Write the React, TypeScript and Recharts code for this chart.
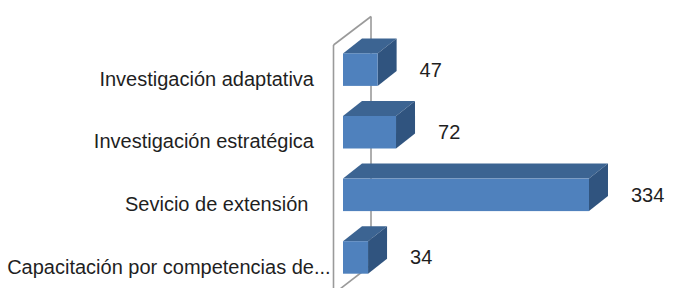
import React from 'react';
import { BarChart, Bar, XAxis, YAxis, LabelList, Customized } from 'recharts';

const categories = [
  'Investigación adaptativa',
  'Investigación estratégica',
  'Sevicio de extensión ',
  'Capacitación por competencias de...',
];
const values = [47, 72, 334, 34];

const data = categories.map((name, i) => ({ name, value: values[i] }));

const W = 697;
const H = 300;
const LEFT = 343;
const TOP = 38.4;
const BOTTOM = 11.2;
const RIGHT = 59.4;
const DX = 19;
const DY = 15;
const FONT = '"Liberation Sans", Arial, sans-serif';
const TEXT = '#1f1f1f';

const FRONT = '#4f81bd';
const TOPC = '#3c6492';
const SIDE = '#30547f';

const Box3D = (props: any) => {
  const { x, y, width, height } = props;
  if (width == null || height == null) return null;
  const w = width, h = height;
  return (
    <g>
      <polygon
        points={`${x},${y} ${x + DX},${y - DY} ${x + w + DX},${y - DY} ${x + w},${y}`}
        fill={TOPC}
      />
      <polygon
        points={`${x + w},${y} ${x + w + DX},${y - DY} ${x + w + DX},${y + h - DY} ${x + w},${y + h}`}
        fill={SIDE}
      />
      <rect x={x} y={y} width={w} height={h} fill={FRONT} />
    </g>
  );
};

const ValueLabel = (props: any) => {
  const { x, y, width, height, value } = props;
  return (
    <text
      x={x + width + DX + 23}
      y={y + height / 2 + 7}
      fontFamily={FONT}
      fontSize={20}
      fill={TEXT}
    >
      {value}
    </text>
  );
};

const CategoryTick = (props: any) => {
  const { y, payload } = props;
  const label: string = payload.value;
  const tx = LEFT - 29;
  const ty = y + 16;
  if (label.endsWith('...')) {
    const body = label.slice(0, -3);
    return (
      <g>
        <text x={tx} y={ty} textAnchor="end" fontFamily={FONT} fontSize={20} fill={TEXT}>
          {body}
        </text>
        <text x={tx} y={ty} textAnchor="start" fontFamily={FONT} fontSize={20} fill={TEXT}>
          ...
        </text>
      </g>
    );
  }
  return (
    <text
      x={tx}
      y={ty}
      textAnchor="end"
      fontFamily={FONT}
      fontSize={20}
      fill={TEXT}
      style={{ whiteSpace: 'pre' }}
    >
      {label}
    </text>
  );
};

const Walls = () => {
  const fx = LEFT - 9.5;
  const bx = LEFT + 28;
  const topFront = TOP + 6.6;
  const topBack = TOP - 21.9;
  const floorFront = H - 6;
  const floorBack = floorFront - 29;
  const stroke = '#9a9a9a';
  return (
    <g>
      <line x1={fx} y1={topFront} x2={fx} y2={H} stroke={stroke} strokeWidth={1.6} />
      <line x1={fx} y1={topFront} x2={bx} y2={topBack} stroke={stroke} strokeWidth={1.6} />
      <line x1={bx} y1={topBack} x2={bx} y2={floorBack} stroke={stroke} strokeWidth={1.6} />
      <line x1={fx} y1={floorFront} x2={bx} y2={floorBack} stroke={stroke} strokeWidth={1.6} />
    </g>
  );
};

export default function App() {
  return (
    <div style={{ position: 'absolute', left: 0, top: 0, width: W, height: 288, overflow: 'hidden', background: '#fff' }}>
      <BarChart
        width={W}
        height={H}
        data={data}
        layout="vertical"
        margin={{ top: TOP, right: RIGHT, bottom: BOTTOM, left: 0 }}
      >
        <XAxis type="number" domain={[0, 400]} hide />
        <YAxis
          type="category"
          dataKey="name"
          width={LEFT}
          axisLine={false}
          tickLine={false}
          tick={(p: any) => <CategoryTick {...p} />}
          interval={0}
        />
        <Customized component={Walls} />
        <Bar dataKey="value" barSize={32.5} shape={(p: any) => <Box3D {...p} />} isAnimationActive={false}>
          <LabelList dataKey="value" content={(p: any) => <ValueLabel {...p} />} />
        </Bar>
      </BarChart>
    </div>
  );
}
